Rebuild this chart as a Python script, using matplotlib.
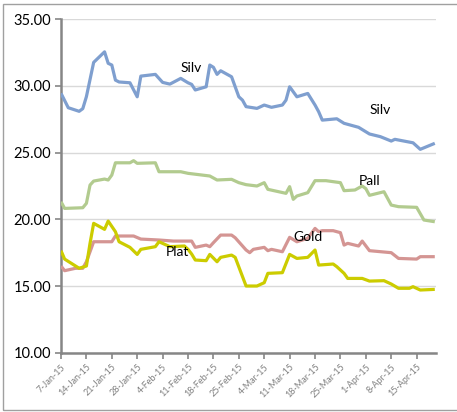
import matplotlib
matplotlib.use("Agg")
import matplotlib.pyplot as plt
from matplotlib.patches import Rectangle
import pandas as pd

# ---- data ----
silv_dates = ["01-07", "01-09", "01-12", "01-13", "01-14", "01-16", "01-19", "01-20", "01-21", "01-22",
              "01-23", "01-26", "01-28", "01-29", "02-02", "02-04", "02-06", "02-09", "02-11", "02-12",
              "02-13", "02-16", "02-17", "02-18", "02-19", "02-20", "02-23", "02-25", "02-26", "02-27",
              "03-02", "03-04", "03-06", "03-09", "03-10", "03-11", "03-13", "03-16", "03-18", "03-19",
              "03-20", "03-24", "03-26", "03-30", "04-02", "04-05", "04-08", "04-09", "04-14", "04-16",
              "04-20"]
silv_vals = [29.45, 28.37, 28.10, 28.30, 29.20, 31.77, 32.56, 31.70, 31.57, 30.44,
             30.30, 30.24, 29.19, 30.74, 30.87, 30.27, 30.14, 30.57, 30.24, 30.12,
             29.70, 29.94, 31.57, 31.40, 30.87, 31.14, 30.69, 29.19, 28.94, 28.45,
             28.32, 28.57, 28.40, 28.57, 28.94, 29.94, 29.19, 29.44, 28.57, 28.07,
             27.44, 27.54, 27.20, 26.90, 26.40, 26.20, 25.87, 26.00, 25.74, 25.25,
             25.70]

pall_dates = ["01-07", "01-08", "01-13", "01-14", "01-15", "01-16", "01-19", "01-20", "01-21", "01-22",
              "01-26", "01-27", "01-28", "02-02", "02-03", "02-06", "02-09", "02-11", "02-17", "02-19",
              "02-23", "02-25", "02-27", "03-02", "03-04", "03-05", "03-10", "03-11", "03-12", "03-13",
              "03-16", "03-18", "03-21", "03-25", "03-26", "03-29", "03-31", "04-01", "04-02", "04-06",
              "04-08", "04-10", "04-15", "04-17", "04-20"]
pall_vals = [21.32, 20.82, 20.87, 21.20, 22.57, 22.87, 23.02, 22.95, 23.32, 24.24,
             24.24, 24.40, 24.20, 24.24, 23.57, 23.57, 23.57, 23.45, 23.25, 22.95,
             23.00, 22.75, 22.60, 22.50, 22.75, 22.25, 21.95, 22.45, 21.50, 21.75,
             22.00, 22.90, 22.90, 22.75, 22.15, 22.20, 22.50, 22.30, 21.80, 22.07,
             21.07, 20.95, 20.90, 19.95, 19.82]

gold_dates = ["01-07", "01-08", "01-11", "01-13", "01-14", "01-16", "01-21", "01-22", "01-27", "01-29",
              "02-03", "02-07", "02-12", "02-13", "02-16", "02-17", "02-18", "02-20", "02-23", "02-24",
              "02-27", "02-28", "03-01", "03-04", "03-05", "03-06", "03-09", "03-11", "03-13", "03-16",
              "03-18", "03-19", "03-20", "03-23", "03-25", "03-26", "03-27", "03-30", "03-31", "04-02",
              "04-08", "04-10", "04-15", "04-16", "04-20"]
gold_vals = [16.50, 16.15, 16.33, 16.33, 16.82, 18.32, 18.32, 18.75, 18.75, 18.52,
             18.45, 18.37, 18.37, 17.90, 18.07, 17.95, 18.25, 18.82, 18.82, 18.62,
             17.70, 17.50, 17.75, 17.90, 17.65, 17.75, 17.57, 18.65, 18.32, 18.58,
             19.32, 19.07, 19.15, 19.15, 19.00, 18.07, 18.20, 18.00, 18.37, 17.65,
             17.50, 17.07, 17.02, 17.20, 17.20]

plat_dates = ["01-07", "01-08", "01-12", "01-14", "01-15", "01-16", "01-19", "01-20", "01-22", "01-23",
              "01-26", "01-28", "01-29", "02-02", "02-03", "02-06", "02-10", "02-11", "02-12", "02-13",
              "02-16", "02-17", "02-19", "02-20", "02-23", "02-24", "02-27", "03-02", "03-04", "03-05",
              "03-09", "03-11", "03-13", "03-16", "03-18", "03-19", "03-23", "03-24", "03-26", "03-27",
              "03-31", "04-02", "04-06", "04-08", "04-10", "04-13", "04-14", "04-16", "04-20"]
plat_vals = [17.65, 17.02, 16.33, 16.50, 18.20, 19.70, 19.25, 19.87, 19.07, 18.32,
             17.90, 17.37, 17.75, 17.95, 18.32, 17.95, 18.00, 17.75, 17.40, 16.95,
             16.90, 17.37, 16.82, 17.15, 17.32, 17.15, 15.00, 15.00, 15.25, 15.95,
             16.00, 17.37, 17.07, 17.15, 17.70, 16.57, 16.65, 16.45, 15.95, 15.57,
             15.57, 15.37, 15.40, 15.15, 14.83, 14.83, 14.95, 14.70, 14.75]

series_names = ["Silv", "Pall", "Gold", "Plat"]
label_dates = {"Silv": ["02-12", "04-05"], "Pall": ["04-02"], "Gold": ["03-16"], "Plat": ["02-08"]}
label_vals = {"Silv": [31.35, 28.2], "Pall": [22.9], "Gold": [18.65], "Plat": [17.57]}

tick_dates = ["01-07", "01-14", "01-21", "01-28", "02-04", "02-11", "02-18", "02-25",
              "03-04", "03-11", "03-18", "03-25", "04-01", "04-08", "04-15"]
tick_labels = ["7-Jan-15", "14-Jan-15", "21-Jan-15", "28-Jan-15", "4-Feb-15", "11-Feb-15",
               "18-Feb-15", "25-Feb-15", "4-Mar-15", "11-Mar-15", "18-Mar-15", "25-Mar-15",
               "1-Apr-15", "8-Apr-15", "15-Apr-15"]
y_ticks = [10, 15, 20, 25, 30, 35]


def to_dt(lst):
    return pd.to_datetime(["2015-" + s for s in lst])


colors = {"Silv": "#7f9fcf", "Pall": "#b2cb8f", "Gold": "#d49593", "Plat": "#cccc00"}

plt.rcParams['font.family'] = ['Lato', 'DejaVu Sans']

fig = plt.figure(figsize=(4.57, 4.12), dpi=100)
ax = fig.add_axes([61 / 457, 1 - 352.7 / 412, (436 - 61) / 457, (352.7 - 19.3) / 412])

data = {"Silv": (silv_dates, silv_vals), "Pall": (pall_dates, pall_vals),
        "Gold": (gold_dates, gold_vals), "Plat": (plat_dates, plat_vals)}
for name in ["Pall", "Silv", "Gold", "Plat"]:
    d, v = data[name]
    ax.plot(to_dt(d), v, color=colors[name], lw=2.3, solid_joinstyle='round',
            solid_capstyle='butt', zorder=3)

for name in series_names:
    for dd, vv in zip(to_dt(label_dates[name]), label_vals[name]):
        ax.text(dd, vv, name, ha='center', va='center', fontsize=10, color='black', zorder=4)

ax.set_ylim(10, 35)
ax.set_yticks(y_ticks)
ax.set_yticklabels([f"{t:.2f}" for t in y_ticks], fontsize=10.5, color='#000000')
ax.set_xlim(pd.Timestamp("2015-01-07"), pd.Timestamp("2015-04-20") + pd.Timedelta(hours=8))
ax.set_xticks(to_dt(tick_dates))
ax.set_xticklabels(tick_labels, rotation=45, ha='right', rotation_mode='anchor',
                   fontsize=6.5, color='#7f7f7f')

ax.grid(axis='y', color='#d9d9d9', lw=1.0, zorder=0)
ax.set_axisbelow(True)
for s in ['top', 'right']:
    ax.spines[s].set_visible(False)
for s in ['left', 'bottom']:
    ax.spines[s].set_color('#868686')
    ax.spines[s].set_linewidth(1.8)
ax.tick_params(axis='both', direction='out', length=4, width=1.2, color='#868686')
ax.tick_params(axis='y', pad=3)
ax.tick_params(axis='x', pad=3)

fig.patches.append(Rectangle((3 / 457, 2 / 412), 1.0, 406 / 412, transform=fig.transFigure,
                             fill=False, edgecolor='#a0a0a0', lw=1.0))

fig.savefig("out.png", dpi=100)
